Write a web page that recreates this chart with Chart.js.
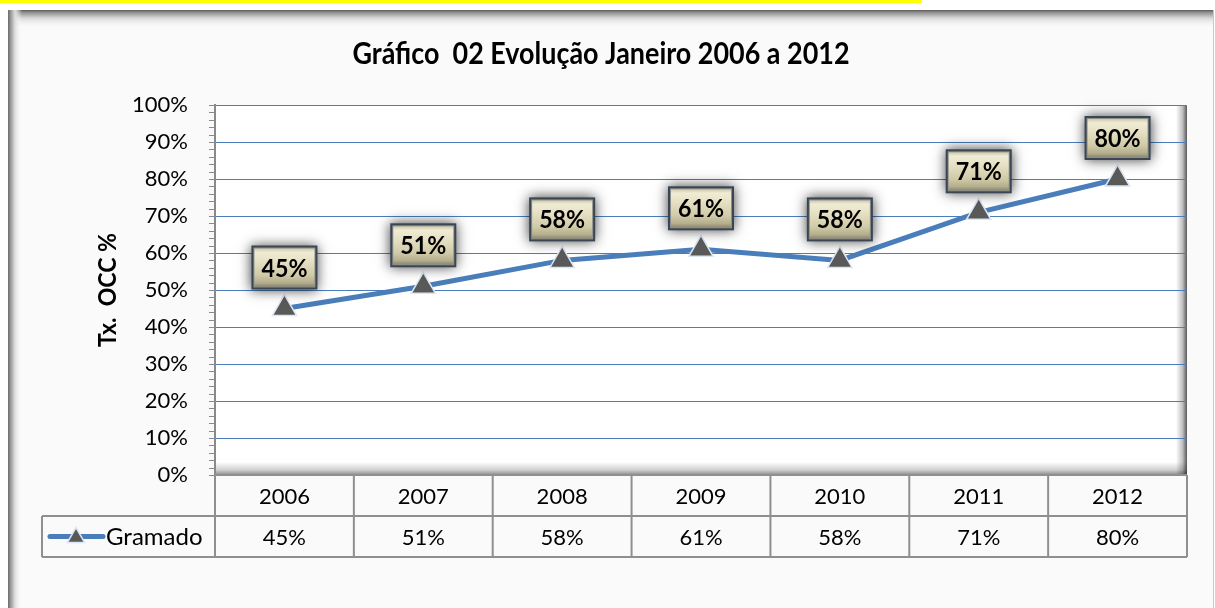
<!DOCTYPE html>
<html>
<head>
<meta charset="utf-8">
<script src="https://cdn.jsdelivr.net/npm/chart.js"></script>
<style>
  html, body { margin: 0; padding: 0; background: #fff; }
  canvas { display: block; }
</style>
</head>
<body>
<canvas id="chart" width="1215" height="608"></canvas>
<script>
// data
const years = ['2006', '2007', '2008', '2009', '2010', '2011', '2012'];
const gramado = [45, 51, 58, 61, 58, 71, 80];
const seriesName = 'Gramado';
const chartTitle = 'Gráfico  02 Evolução Janeiro 2006 a 2012';
const yTitle = 'Tx.  OCC %';
const yTickValues = [0, 10, 20, 30, 40, 50, 60, 70, 80, 90, 100];

const FONT = 'Lato, "Open Sans", sans-serif';
const LINE_BLUE = '#4a7ebb';
const TABLE_GRAY = '#8f8f8f';

function triangle(ctx, x, y, r, fill, stroke) {
  ctx.beginPath();
  ctx.moveTo(x, y - r);
  ctx.lineTo(x + r * 0.866, y + r * 0.5);
  ctx.lineTo(x - r * 0.866, y + r * 0.5);
  ctx.closePath();
  ctx.fillStyle = fill;
  ctx.fill();
  ctx.strokeStyle = stroke;
  ctx.lineWidth = 1.5;
  ctx.stroke();
}

// text squeezed to a given width, keeping its height (the original is Calibri)
function fitText(ctx, text, x, y, font, width) {
  ctx.font = font;
  const w = ctx.measureText(text).width;
  ctx.save();
  ctx.translate(x, y);
  ctx.scale(Math.min(1, width / w), 1);
  ctx.fillText(text, 0, 0);
  ctx.restore();
}

// frame, plot background, axis ruler
const backdrop = {
  id: 'backdrop',
  beforeDraw(chart) {
    const ctx = chart.ctx, W = chart.width, H = chart.height, ca = chart.chartArea;
    ctx.save();
    ctx.fillStyle = '#fff';
    ctx.fillRect(0, 0, W, H);
    ctx.fillStyle = '#ffff00';
    ctx.fillRect(0, 0, 922, 3);

    // outer frame
    ctx.fillStyle = '#fafafa';
    ctx.fillRect(8, 10, 1206, H);
    let g = ctx.createLinearGradient(0, 10, 0, 28);
    g.addColorStop(0, '#5a5a5a');
    g.addColorStop(0.12, '#8c8c8c');
    g.addColorStop(0.45, '#d8d8d8');
    g.addColorStop(1, 'rgba(250,250,250,0)');
    ctx.fillStyle = g;
    ctx.fillRect(8, 10, 1206, 18);
    g = ctx.createLinearGradient(8, 0, 22, 0);
    g.addColorStop(0, '#6a6a6a');
    g.addColorStop(0.2, '#9c9c9c');
    g.addColorStop(0.5, '#dedede');
    g.addColorStop(1, 'rgba(250,250,250,0)');
    ctx.fillStyle = g;
    ctx.fillRect(8, 10, 14, H);
    ctx.fillStyle = '#c8c8c8';
    ctx.fillRect(1213, 10, 1, H);

    // plot area
    ctx.fillStyle = '#fff';
    ctx.fillRect(ca.left, ca.top, ca.right - ca.left, ca.bottom - ca.top);
    g = ctx.createLinearGradient(ca.right - 11, 0, ca.right, 0);
    g.addColorStop(0, 'rgba(0,0,0,0)');
    g.addColorStop(0.6, 'rgba(0,0,0,0.25)');
    g.addColorStop(1, 'rgba(0,0,0,0.65)');
    ctx.fillStyle = g;
    ctx.fillRect(ca.right - 11, ca.top, 11, ca.bottom - ca.top);
    g = ctx.createLinearGradient(0, ca.bottom - 13, 0, ca.bottom);
    g.addColorStop(0, 'rgba(0,0,0,0)');
    g.addColorStop(0.6, 'rgba(0,0,0,0.18)');
    g.addColorStop(1, 'rgba(0,0,0,0.45)');
    ctx.fillStyle = g;
    ctx.fillRect(ca.left, ca.bottom - 13, ca.right - ca.left, 13);
    ctx.restore();
  },
  beforeDatasetsDraw(chart) {
    const ctx = chart.ctx, ca = chart.chartArea, y = chart.scales.y;
    ctx.save();
    ctx.strokeStyle = '#8a8a8a';
    ctx.lineWidth = 1;
    for (let v = 0; v <= 100; v += 2) {
      const py = Math.round(y.getPixelForValue(v)) + 0.5;
      ctx.beginPath();
      ctx.moveTo(ca.left - 6, py);
      ctx.lineTo(ca.left, py);
      ctx.stroke();
    }
    ctx.lineWidth = 2;
    ctx.beginPath();
    ctx.moveTo(ca.left, ca.top - 1);
    ctx.lineTo(ca.left, ca.bottom);
    ctx.stroke();
    ctx.restore();
  }
};

// titles, data labels, data table
const overlay = {
  id: 'overlay',
  afterDatasetsDraw(chart) {
    const ctx = chart.ctx;
    const pts = chart.getDatasetMeta(0).data;
    ctx.save();
    pts.forEach((p, i) => {
      const w = 66, h = 44;
      const x = p.x - w / 2, y = p.y - 41 - h / 2;
      ctx.save();
      ctx.shadowColor = 'rgba(0,0,0,0.75)';
      ctx.shadowBlur = 12;
      ctx.fillStyle = '#3a4654';
      ctx.fillRect(x, y, w, h);
      ctx.restore();
      ctx.fillStyle = '#8c8f8c';
      ctx.fillRect(x + 2, y + 2, w - 4, h - 4);
      const g = ctx.createLinearGradient(0, y + 3, 0, y + h - 3);
      g.addColorStop(0, '#cdc8aa');
      g.addColorStop(0.1, '#f0ecd4');
      g.addColorStop(0.35, '#e5e0c3');
      g.addColorStop(0.7, '#d0caa7');
      g.addColorStop(0.9, '#b5ae8d');
      g.addColorStop(1, '#8d8870');
      ctx.fillStyle = g;
      ctx.fillRect(x + 3, y + 3, w - 6, h - 6);
      ctx.fillStyle = '#000';
      ctx.textAlign = 'center';
      ctx.textBaseline = 'middle';
      fitText(ctx, gramado[i] + '%', p.x, y + h / 2 + 1, 'bold 25px ' + FONT, 46);
    });
    ctx.restore();
  },
  afterDraw(chart) {
    const ctx = chart.ctx, ca = chart.chartArea, xs = chart.scales.x;
    ctx.save();

    // chart title
    ctx.fillStyle = '#000';
    ctx.textAlign = 'center';
    ctx.textBaseline = 'middle';
    fitText(ctx, chartTitle, 601, 54, 'bold 31px ' + FONT, 497);

    // y axis title
    ctx.save();
    ctx.translate(108, 290);
    ctx.rotate(-Math.PI / 2);
    fitText(ctx, yTitle, 0, 0, 'bold 25px ' + FONT, 114);
    ctx.restore();

    // data table
    const colW = (ca.right - ca.left) / years.length;
    const r0 = ca.bottom, r1 = ca.bottom + 41, r2 = ca.bottom + 82;
    const tableLeft = 42;
    ctx.strokeStyle = TABLE_GRAY;
    ctx.lineWidth = 2;
    ctx.beginPath();
    ctx.moveTo(ca.left, r0); ctx.lineTo(ca.right, r0);
    ctx.moveTo(tableLeft, r1); ctx.lineTo(ca.right, r1);
    ctx.moveTo(tableLeft, r2); ctx.lineTo(ca.right, r2);
    for (let i = 0; i <= years.length; i++) {
      const x = ca.left + i * colW;
      ctx.moveTo(x, r0); ctx.lineTo(x, r2);
    }
    ctx.moveTo(tableLeft, r1); ctx.lineTo(tableLeft, r2);
    ctx.stroke();

    ctx.fillStyle = '#000';
    ctx.font = '22px ' + FONT;
    years.forEach((yr, i) => {
      const cx = xs.getPixelForValue(i);
      ctx.fillText(yr, cx, (r0 + r1) / 2 + 1);
      ctx.fillText(gramado[i] + '%', cx, (r1 + r2) / 2 + 1);
    });

    // legend key
    const ky = (r1 + r2) / 2;
    ctx.strokeStyle = LINE_BLUE;
    ctx.lineWidth = 5;
    ctx.lineCap = 'round';
    ctx.beginPath();
    ctx.moveTo(50, ky); ctx.lineTo(103, ky);
    ctx.stroke();
    triangle(ctx, 76, ky + 1, 10, '#595959', '#dce6f2');
    ctx.fillStyle = '#000';
    ctx.textAlign = 'left';
    ctx.font = '24px ' + FONT;
    ctx.fillText(seriesName, 106, ky + 1);
    ctx.restore();
  }
};

new Chart(document.getElementById('chart'), {
  type: 'line',
  data: {
    labels: years,
    datasets: [{
      label: seriesName,
      data: gramado,
      borderColor: LINE_BLUE,
      borderWidth: 5,
      pointStyle: 'triangle',
      pointRadius: 14,
      pointBackgroundColor: '#595959',
      pointBorderColor: '#dce6f2',
      pointBorderWidth: 1.5,
      tension: 0
    }]
  },
  options: {
    responsive: false,
    devicePixelRatio: 1,
    animation: false,
    layout: { padding: { left: 0, top: 105, right: 28, bottom: 0 } },
    plugins: {
      legend: { display: false },
      title: { display: false },
      tooltip: { enabled: false }
    },
    scales: {
      x: {
        offset: true,
        grid: { display: false },
        border: { display: false },
        ticks: { display: false },
        afterFit: s => { s.height = 133; }
      },
      y: {
        min: 0,
        max: 100,
        afterBuildTicks: s => { s.ticks = yTickValues.map(v => ({ value: v })); },
        grid: { color: LINE_BLUE, lineWidth: 1, drawTicks: false },
        border: { display: false },
        ticks: {
          padding: 27,
          color: '#000',
          font: { family: FONT, size: 22 },
          callback: v => v + '%'
        },
        afterFit: s => { s.width = 215; }
      }
    }
  },
  plugins: [backdrop, overlay]
});
</script>
</body>
</html>
